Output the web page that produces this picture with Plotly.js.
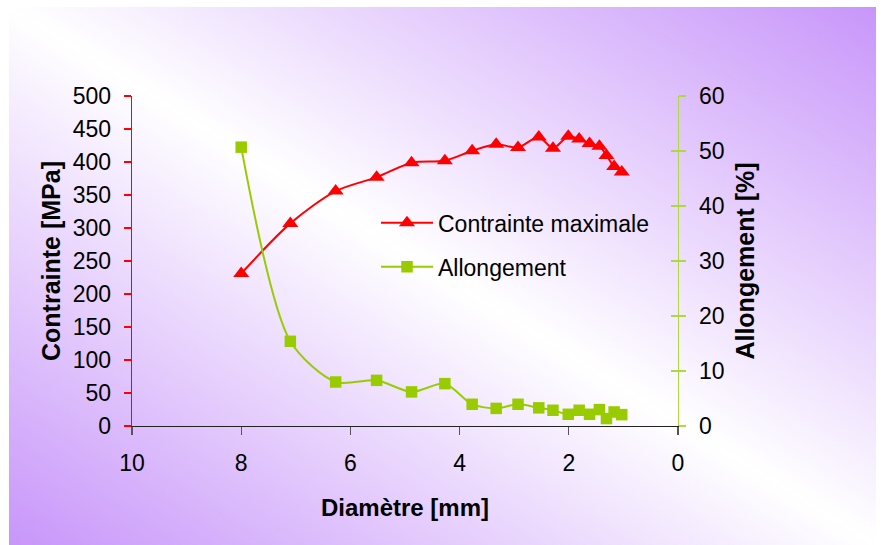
<!DOCTYPE html>
<html>
<head>
<meta charset="utf-8">
<script src="https://cdn.plot.ly/plotly-3.0.1.min.js"></script>
<style>
  html, body { margin:0; padding:0; background:#ffffff; }
  #bg { position:absolute; left:9px; top:7px; width:867px; height:538px;
        background: linear-gradient(to top right, #c896fa 0%, #ffffff 50%, #c896fa 100%); }
  #chart { position:absolute; left:0; top:0; width:885px; height:545px; }
</style>
</head>
<body>
<div id="bg"></div>
<div id="chart"></div>
<script>
// Diamètre [mm]
const diametre = [8.0, 7.1, 6.27, 5.52, 4.88, 4.27, 3.77, 3.33, 2.93, 2.55, 2.29, 2.01, 1.81, 1.62, 1.44, 1.31, 1.17, 1.03];
// Contrainte maximale [MPa]
const contrainte = [231, 307, 356, 377, 399, 402, 417, 427, 422, 438, 421, 439, 435, 428, 424, 410, 393, 385];
// Allongement [%]
const allongement = [50.7, 15.4, 8.0, 8.3, 6.2, 7.7, 3.95, 3.2, 3.95, 3.3, 2.86, 2.13, 2.86, 2.13, 2.98, 1.35, 2.55, 2.07];

const xTicks = [10, 8, 6, 4, 2, 0];
const yLeftTicks = [0, 50, 100, 150, 200, 250, 300, 350, 400, 450, 500];
const yRightTicks = [0, 10, 20, 30, 40, 50, 60];

const FONT = '"Liberation Sans", Arial, sans-serif';
const RED = '#ff0000';
const GREEN = '#99cc00';
const GREEN_AX = '#b0d640';

const L = 132, R = 678, T = 96, B = 426;
const W = 885, H = 545;
const px2x = p => (p - L) / (R - L);
const py2y = p => (B - p) / (B - T);

const traces = [
  {
    x: diametre, y: contrainte, name: 'Contrainte maximale',
    type: 'scatter', mode: 'lines+markers',
    line: {color: RED, width: 2, shape: 'spline', smoothing: 0.8},
    marker: {symbol: 'triangle-up', size: 14, color: RED},
    xaxis: 'x', yaxis: 'y', legend: 'legend'
  },
  {
    x: diametre, y: allongement, name: 'Allongement',
    type: 'scatter', mode: 'lines+markers',
    line: {color: GREEN, width: 2, shape: 'spline', smoothing: 0.8},
    marker: {symbol: 'square', size: 11.5, color: GREEN},
    xaxis: 'x', yaxis: 'y2', legend: 'legend2'
  }
];

const layout = {
  width: W, height: H,
  margin: {l: L, r: W - R, t: T, b: H - B, pad: 0},
  paper_bgcolor: 'rgba(0,0,0,0)',
  plot_bgcolor: 'rgba(0,0,0,0)',
  font: {family: FONT, size: 23, color: '#000'},
  showlegend: true,
  xaxis: {
    range: [10, 0], tickvals: xTicks, ticktext: xTicks.map(String),
    showgrid: false, zeroline: false,
    showline: true, linecolor: '#222', linewidth: 1.3,
    ticks: 'outside', ticklen: 8, tickcolor: '#555', tickwidth: 1.3,
    ticklabelstandoff: 8,
    tickfont: {size: 23},
    title: {text: '<b>Diamètre [mm]</b>', font: {size: 24}, standoff: 24},
    automargin: false
  },
  yaxis: {
    range: [0, 500], tickvals: yLeftTicks, ticktext: yLeftTicks.map(String),
    showgrid: false, zeroline: false,
    showline: true, linecolor: RED, linewidth: 1.3,
    ticks: 'outside', ticklen: 7, tickcolor: RED, tickwidth: 1.3,
    ticklabelstandoff: 8,
    tickfont: {size: 23},
    title: {text: '<b>Contrainte [MPa]</b>', font: {size: 25}, standoff: 5},
    automargin: false
  },
  yaxis2: {
    range: [0, 60], tickvals: yRightTicks, ticktext: yRightTicks.map(String),
    overlaying: 'y', side: 'right', anchor: 'x',
    showgrid: false, zeroline: false,
    showline: true, linecolor: GREEN_AX, linewidth: 1.3,
    ticks: 'outside', ticklen: 7, tickcolor: GREEN_AX, tickwidth: 1.3,
    ticklabelstandoff: 8,
    tickfont: {size: 23},
    title: {text: '<b>Allongement [%]</b>', font: {size: 25}, standoff: 13},
    automargin: false
  },
  yaxis3: {
    range: [0, 60], tickvals: yRightTicks,
    overlaying: 'y', side: 'right', anchor: 'x',
    showgrid: false, zeroline: false, showline: false,
    ticks: 'inside', ticklen: 7, tickcolor: GREEN_AX, tickwidth: 1.3,
    showticklabels: false
  },
  legend: {
    x: px2x(376), y: py2y(222.7), xanchor: 'left', yanchor: 'middle',
    bgcolor: 'rgba(0,0,0,0)', borderwidth: 0,
    font: {size: 23, color: '#000'}, itemwidth: 52
  },
  legend2: {
    x: px2x(376), y: py2y(266.7), xanchor: 'left', yanchor: 'middle',
    bgcolor: 'rgba(0,0,0,0)', borderwidth: 0,
    font: {size: 23, color: '#000'}, itemwidth: 52
  }
};

traces.push({x: [5], y: [-100], xaxis: 'x', yaxis: 'y3', showlegend: false,
  mode: 'markers', hoverinfo: 'skip', marker: {opacity: 0}});

Plotly.newPlot('chart', traces, layout, {displayModeBar: false, staticPlot: true});
</script>
</body>
</html>
